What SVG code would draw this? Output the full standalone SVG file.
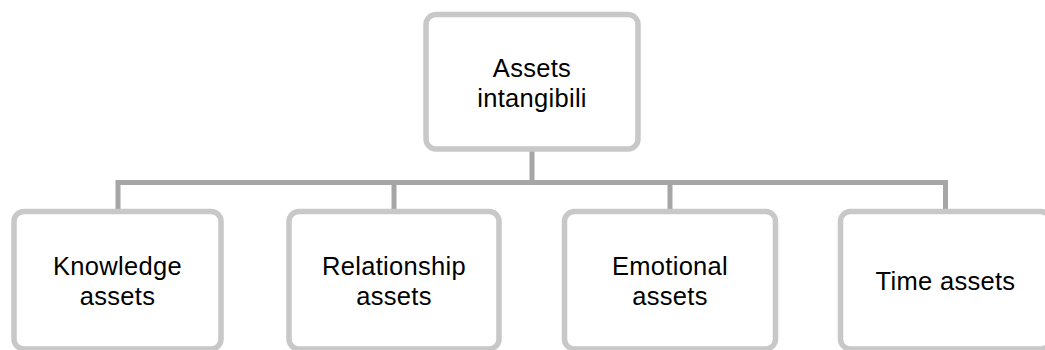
<svg xmlns="http://www.w3.org/2000/svg" width="1045" height="350" viewBox="0 0 1045 350">
  <style>
    .box { fill: #ffffff; stroke: #c8c8c8; stroke-width: 5.5; }
    .link { fill: none; stroke: #a6a6a6; stroke-width: 5; stroke-linejoin: miter; }
    .label { font-family: "Liberation Sans", Arial, sans-serif; font-size: 25.5px; letter-spacing: 0.3px; fill: #000000; text-anchor: middle; }
  </style>
  <rect width="1045" height="350" fill="#ffffff"/>

  <!-- tree connectors: trunk, bus line and four drops -->
  <g id="connectors">
    <path class="link" d="M532,151 V182.5"/>
    <path class="link" d="M118,209 V182.5 H945.5 V209"/>
    <path class="link" d="M394,182.5 V209"/>
    <path class="link" d="M670,182.5 V209"/>
  </g>

  <g id="node-root">
    <rect class="box" x="426" y="14.5" width="212" height="134.5" rx="10"/>
    <text class="label" x="532" y="77">Assets</text>
    <text class="label" x="532" y="107">intangibili</text>
  </g>

  <g id="node-knowledge">
    <rect class="box" x="14" y="211.5" width="207" height="137.5" rx="10"/>
    <text class="label" x="117.5" y="275">Knowledge</text>
    <text class="label" x="117.5" y="305">assets</text>
  </g>

  <g id="node-relationship">
    <rect class="box" x="289" y="211.5" width="210" height="137.5" rx="10"/>
    <text class="label" x="394" y="275">Relationship</text>
    <text class="label" x="394" y="305">assets</text>
  </g>

  <g id="node-emotional">
    <rect class="box" x="564.5" y="211.5" width="211" height="137.5" rx="10"/>
    <text class="label" x="670" y="275">Emotional</text>
    <text class="label" x="670" y="305">assets</text>
  </g>

  <g id="node-time">
    <rect class="box" x="840.5" y="211.5" width="210" height="137.5" rx="10"/>
    <text class="label" x="945.5" y="290">Time assets</text>
  </g>
</svg>
